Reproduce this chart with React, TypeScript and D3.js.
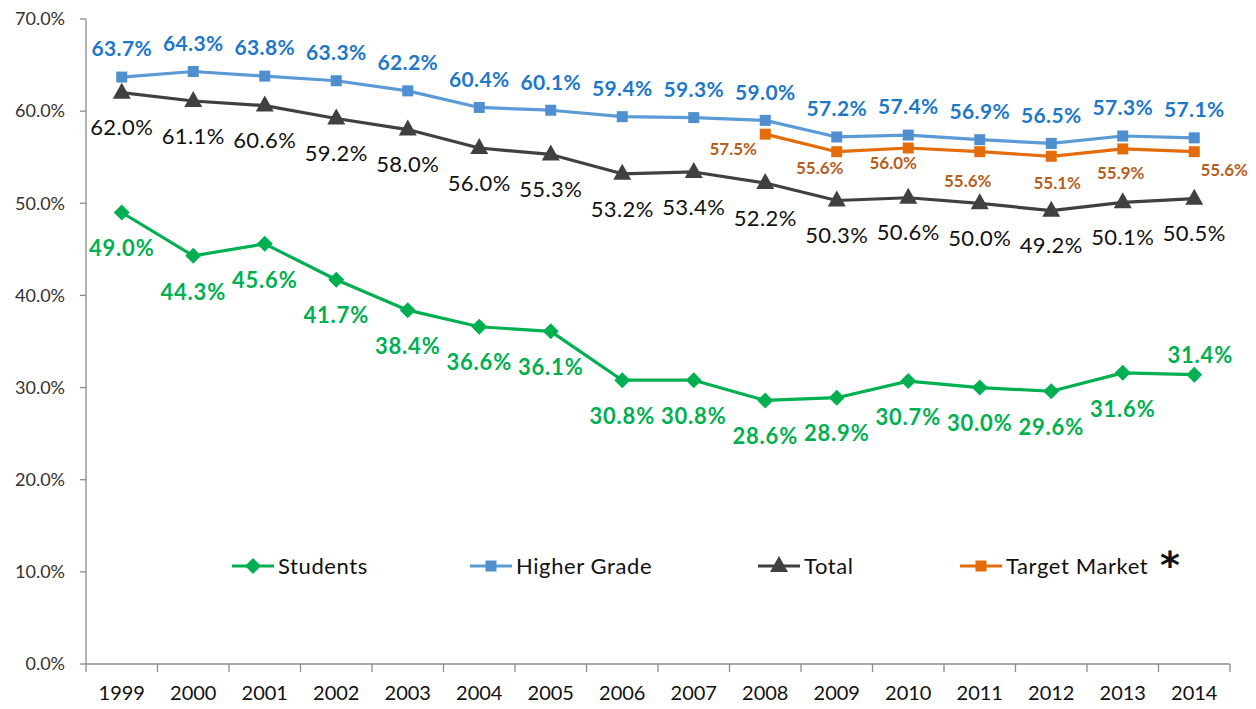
import React, { useEffect, useRef } from "react";
import * as d3 from "d3";

const years = ["1999","2000","2001","2002","2003","2004","2005","2006","2007","2008","2009","2010","2011","2012","2013","2014"];
const students = [49.0,44.3,45.6,41.7,38.4,36.6,36.1,30.8,30.8,28.6,28.9,30.7,30.0,29.6,31.6,31.4];
const higherGrade = [63.7,64.3,63.8,63.3,62.2,60.4,60.1,59.4,59.3,59.0,57.2,57.4,56.9,56.5,57.3,57.1];
const total = [62.0,61.1,60.6,59.2,58.0,56.0,55.3,53.2,53.4,52.2,50.3,50.6,50.0,49.2,50.1,50.5];
const targetMarket: (number | null)[] = [null,null,null,null,null,null,null,null,null,57.5,55.6,56.0,55.6,55.1,55.9,55.6];
const yTicks = [0,10,20,30,40,50,60,70];

// label layout offsets (px)
const studentLabelOffset = years.map((_, i) => (i === 15 ? [6, -19] : [0, 36]));
const targetLabelOffset: [number, number][] = [
  [0,0],[0,0],[0,0],[0,0],[0,0],[0,0],[0,0],[0,0],[0,0],
  [-32,15],[-17,16],[-15,15],[-12,29],[6,27],[-2,24],[30,18],
];

const W = 1256, H = 709;
const M = { left: 86, right: 26, top: 19, bottom: 45 };

const C = {
  green: "#00B050",
  blueLine: "#5B9BD5",
  blueMarker: "#4F8FD0",
  blueText: "#1E78C8",
  total: "#404040",
  orange: "#E46C0A",
  orangeText: "#B5601C",
  axis: "#8C8C8C",
};

const FONT = "Lato, 'Open Sans', sans-serif";

export default function App() {
  const ref = useRef<SVGSVGElement>(null);
  useEffect(() => {
    const svg = d3.select(ref.current!);
    svg.selectAll("*").remove();
    const x = d3.scaleBand<string>().domain(years).range([M.left, W - M.right]).padding(0);
    const y = d3.scaleLinear().domain([0, 70]).range([H - M.bottom, M.top]);
    const cx = (i: number) => (x(years[i]) as number) + x.bandwidth() / 2;

    // axes
    const g = svg.append("g");
    g.append("line").attr("x1", M.left).attr("x2", M.left).attr("y1", y(70)).attr("y2", y(0))
      .attr("stroke", C.axis).attr("stroke-width", 1.3);
    g.append("line").attr("x1", M.left).attr("x2", W - M.right).attr("y1", y(0)).attr("y2", y(0))
      .attr("stroke", C.axis).attr("stroke-width", 1.3);
    yTicks.forEach((t) => {
      g.append("line").attr("x1", M.left - 6).attr("x2", M.left).attr("y1", y(t)).attr("y2", y(t))
        .attr("stroke", C.axis).attr("stroke-width", 1.3);
      g.append("text").attr("x", M.left - 21).attr("y", y(t)).attr("dy", "0.35em")
        .attr("text-anchor", "end").attr("font-size", 18).attr("fill", "#333")
        .attr("font-family", FONT).text(t.toFixed(1) + "%");
    });
    [...years.map((yy) => x(yy) as number), W - M.right].forEach((px) => {
      g.append("line").attr("x1", px).attr("x2", px).attr("y1", y(0)).attr("y2", y(0) + 8)
        .attr("stroke", C.axis).attr("stroke-width", 1.3);
    });
    years.forEach((yy, i) => {
      g.append("text").attr("x", cx(i)).attr("y", y(0) + 29).attr("dy", "0.35em")
        .attr("text-anchor", "middle").attr("font-size", 20).attr("fill", "#111")
        .attr("font-family", FONT).text(yy);
    });

    const line = d3.line<number | null>()
      .defined((d) => d !== null)
      .x((_, i) => cx(i))
      .y((d) => y(d as number));

    const drawMarker = (sel: any, type: string, px: number, py: number, color: string) => {
      if (type === "square") {
        sel.append("rect").attr("x", px - 5.5).attr("y", py - 5.5).attr("width", 11).attr("height", 11).attr("fill", color);
      } else if (type === "diamond") {
        sel.append("path").attr("d", `M${px},${py - 8}L${px + 8},${py}L${px},${py + 8}L${px - 8},${py}Z`).attr("fill", color);
      } else if (type === "triangle") {
        sel.append("path").attr("d", `M${px},${py - 10}L${px + 9},${py + 6}L${px - 9},${py + 6}Z`).attr("fill", color);
      }
    };

    const series = [
      { data: higherGrade as (number | null)[], color: C.blueLine, marker: "square", mcolor: C.blueMarker },
      { data: targetMarket, color: C.orange, marker: "square", mcolor: C.orange },
      { data: total as (number | null)[], color: C.total, marker: "triangle", mcolor: C.total },
      { data: students as (number | null)[], color: C.green, marker: "diamond", mcolor: C.green },
    ];
    series.forEach((s) => {
      svg.append("path").attr("d", line(s.data) as string).attr("fill", "none")
        .attr("stroke", s.color).attr("stroke-width", 3.2).attr("stroke-linejoin", "round");
      const mg = svg.append("g");
      s.data.forEach((d, i) => {
        if (d !== null) drawMarker(mg, s.marker, cx(i), y(d), s.mcolor);
      });
    });

    // labels
    const lg = svg.append("g").attr("font-family", FONT);
    higherGrade.forEach((d, i) => {
      lg.append("text").attr("x", cx(i)).attr("y", y(d) - 28).attr("dy", "0.35em").attr("text-anchor", "middle")
        .attr("font-size", 21).attr("font-weight", "bold").attr("letter-spacing", 0.4).attr("fill", C.blueText).text(d.toFixed(1) + "%");
    });
    total.forEach((d, i) => {
      lg.append("text").attr("x", cx(i)).attr("y", y(d) + 35).attr("dy", "0.35em").attr("text-anchor", "middle")
        .attr("font-size", 22).attr("letter-spacing", 0.4).attr("fill", "#111").text(d.toFixed(1) + "%");
    });
    students.forEach((d, i) => {
      const [dx, dy] = studentLabelOffset[i];
      lg.append("text").attr("x", cx(i) + dx).attr("y", y(d) + dy).attr("dy", "0.35em").attr("text-anchor", "middle")
        .attr("font-size", 22).attr("font-weight", "bold").attr("letter-spacing", 0.8).attr("fill", C.green).text(d.toFixed(1) + "%");
    });
    targetMarket.forEach((d, i) => {
      if (d === null) return;
      const [dx, dy] = targetLabelOffset[i];
      lg.append("text").attr("x", cx(i) + dx).attr("y", y(d) + dy).attr("dy", "0.35em").attr("text-anchor", "middle")
        .attr("font-size", 17).attr("font-weight", "bold").attr("fill", C.orangeText).text(d.toFixed(1) + "%");
    });

    // legend
    const legend = [
      { name: "Students", color: C.green, marker: "diamond", x: 232 },
      { name: "Higher Grade", color: C.blueLine, marker: "square", x: 470 },
      { name: "Total", color: C.total, marker: "triangle", x: 758 },
      { name: "Target Market", color: C.orange, marker: "square", x: 960 },
    ];
    const leg = svg.append("g");
    const ly = 566;
    legend.forEach((l) => {
      leg.append("line").attr("x1", l.x).attr("x2", l.x + 42).attr("y1", ly).attr("y2", ly)
        .attr("stroke", l.color).attr("stroke-width", 3.2);
      drawMarker(leg, l.marker, l.x + 21, ly, l.marker === "square" && l.color === C.blueLine ? C.blueMarker : l.color);
      leg.append("text").attr("x", l.x + 46).attr("y", ly).attr("dy", "0.35em")
        .attr("font-size", 22).attr("letter-spacing", 0.6).attr("fill", "#111").attr("font-family", FONT).text(l.name);
    });
    leg.append("text").attr("x", 1160).attr("y", 578).attr("font-size", 38).attr("font-weight", "bold")
      .attr("fill", "#111").attr("font-family", "'DejaVu Sans', sans-serif").text("*");
  }, []);

  return (
    <svg ref={ref} width={W} height={H} style={{ position: "absolute", left: 0, top: 0, background: "#fff" }} />
  );
}
